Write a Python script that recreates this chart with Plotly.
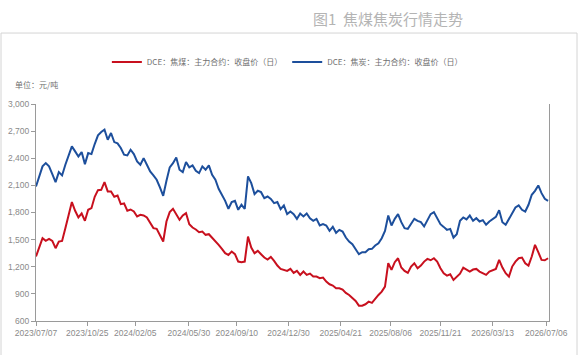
import pandas as pd
import plotly.graph_objects as go

# weekly readings (yuan/ton), starting 2023-07-07
start_date = "2023-07-07"
coking_coal = [1313, 1405, 1516, 1486, 1508, 1486, 1405, 1479, 1486, 1627,
               1767, 1915, 1819, 1745, 1789, 1708, 1830, 1848, 1974, 2047,
               2051, 2136, 2033, 2033, 1974, 1988, 1892, 1900, 1819, 1833,
               1811, 1756, 1774, 1767, 1745, 1693, 1627, 1619, 1553, 1479,
               1700, 1804, 1841, 1774, 1719, 1767, 1793, 1671, 1634, 1612,
               1582, 1590, 1553, 1560, 1523, 1486, 1442, 1398, 1350, 1331,
               1368, 1339, 1257, 1250, 1257, 1534, 1412, 1350, 1376, 1339,
               1302, 1280, 1309, 1265, 1213, 1176, 1161, 1154, 1176, 1132,
               1154, 1110, 1147, 1110, 1124, 1091, 1091, 1073, 1080, 1036,
               1006, 992, 962, 962, 947, 910, 888, 859, 822, 770,
               770, 785, 814, 800, 851, 888, 925, 980, 1239, 1165,
               1250, 1294, 1191, 1154, 1132, 1202, 1239, 1184, 1213, 1257,
               1287, 1272, 1294, 1257, 1184, 1128, 1102, 1117, 1054, 1091,
               1124, 1191, 1169, 1147, 1169, 1176, 1147, 1128, 1110, 1147,
               1165, 1176, 1276, 1191, 1128, 1091, 1202, 1257, 1294, 1302,
               1239, 1213, 1313, 1442, 1361, 1276, 1272, 1294]
coke = [2088, 2199, 2310, 2346, 2310, 2225, 2136, 2247, 2210, 2328,
        2420, 2531, 2476, 2420, 2468, 2335, 2457, 2446, 2557, 2653,
        2690, 2716, 2605, 2679, 2579, 2564, 2513, 2439, 2431, 2494,
        2446, 2365, 2328, 2402, 2328, 2254, 2210, 2162, 2077, 1985,
        2151, 2299, 2346, 2409, 2273, 2247, 2358, 2299, 2321, 2262,
        2236, 2310, 2273, 2321, 2217, 2162, 2062, 2003, 1929, 1841,
        1915, 1929, 1830, 1885, 1841, 2199, 2125, 2003, 2040, 2025,
        1959, 1977, 1951, 1903, 1915, 1837, 1878, 1782, 1811, 1782,
        1730, 1789, 1756, 1789, 1737, 1708, 1730, 1656, 1671, 1656,
        1597, 1641, 1575, 1608, 1590, 1523, 1479, 1449, 1398, 1339,
        1361, 1361, 1394, 1398, 1435, 1460, 1516, 1597, 1767, 1656,
        1730, 1782, 1693, 1627, 1619, 1682, 1730, 1708, 1693, 1645,
        1708, 1782, 1804, 1737, 1671, 1641, 1608, 1619, 1523, 1560,
        1708, 1745, 1723, 1767, 1708, 1737, 1700, 1715, 1664, 1700,
        1723, 1752, 1826, 1693, 1664, 1730, 1793, 1855, 1878, 1830,
        1811, 1885, 1996, 2040, 2099, 2014, 1951, 1929]

tick_dates = ["2023-07-07", "2023-10-25", "2024-02-05", "2024-05-30", "2024-09-10",
              "2024-12-30", "2025-04-21", "2025-08-06", "2025-11-21", "2026-03-13",
              "2026-07-06"]
tick_labels = [d.replace("-", "/") for d in tick_dates]
y_ticks = [600, 900, 1200, 1500, 1800, 2100, 2400, 2700, 3000]

dates = pd.date_range(start_date, periods=len(coke), freq="7D")

fig = go.Figure()
fig.add_trace(go.Scatter(x=dates, y=coking_coal, mode="lines",
                         name="DCE：焦煤：主力合约：收盘价（日）",
                         line=dict(color="#C8101E", width=2)))
fig.add_trace(go.Scatter(x=dates, y=coke, mode="lines",
                         name="DCE：焦炭：主力合约：收盘价（日）",
                         line=dict(color="#1D4F9C", width=2)))

axis_font = dict(family="Liberation Sans", size=8.5, color="#8a8a8a")

fig.update_layout(
    template="none",
    width=583, height=355,
    margin=dict(l=36, r=34, t=104, b=34, pad=0),
    paper_bgcolor="white", plot_bgcolor="white",
    showlegend=True,
    legend=dict(orientation="h", x=0.49, xanchor="center", y=1.194, yanchor="middle",
                font=dict(family="Noto Sans CJK SC", size=8, color="#707070"),
                itemwidth=30, bgcolor="rgba(0,0,0,0)"),
    xaxis=dict(type="date", range=["2023-07-07", "2026-07-12"],
               tickvals=tick_dates, ticktext=tick_labels,
               showgrid=False, zeroline=False, automargin=False,
               showline=True, linecolor="#9a9a9a", linewidth=1,
               ticks="outside", ticklen=4, tickcolor="#9a9a9a",
               tickfont=axis_font, tickangle=0),
    yaxis=dict(range=[600, 3000], tickvals=y_ticks,
               tickformat=",d", showgrid=False, zeroline=False, automargin=False,
               showline=True, linecolor="#9a9a9a", linewidth=1, mirror=True,
               ticks="outside", ticklen=4, tickcolor="#9a9a9a",
               tickfont=axis_font),
    shapes=[dict(type="rect", xref="paper", yref="paper",
                 x0=-0.0682, x1=1.0546, y0=-0.2, y1=1.327,
                 line=dict(color="#d4d4d4", width=1), fillcolor="rgba(0,0,0,0)",
                 layer="below")],
    annotations=[
        dict(text="单位：元/吨", xref="paper", yref="paper", x=-0.045, y=1.0876,
             xanchor="left", yanchor="middle", showarrow=False,
             font=dict(family="Noto Sans CJK SC", size=8, color="#707070")),
        dict(text="图1  焦煤焦炭行情走势", xref="paper", yref="paper", x=0.536, y=1.396,
             xanchor="left", yanchor="middle", showarrow=False,
             font=dict(family="Noto Sans CJK SC", size=15, color="#b4b4b4")),
    ],
)

fig.write_html("out.html")
